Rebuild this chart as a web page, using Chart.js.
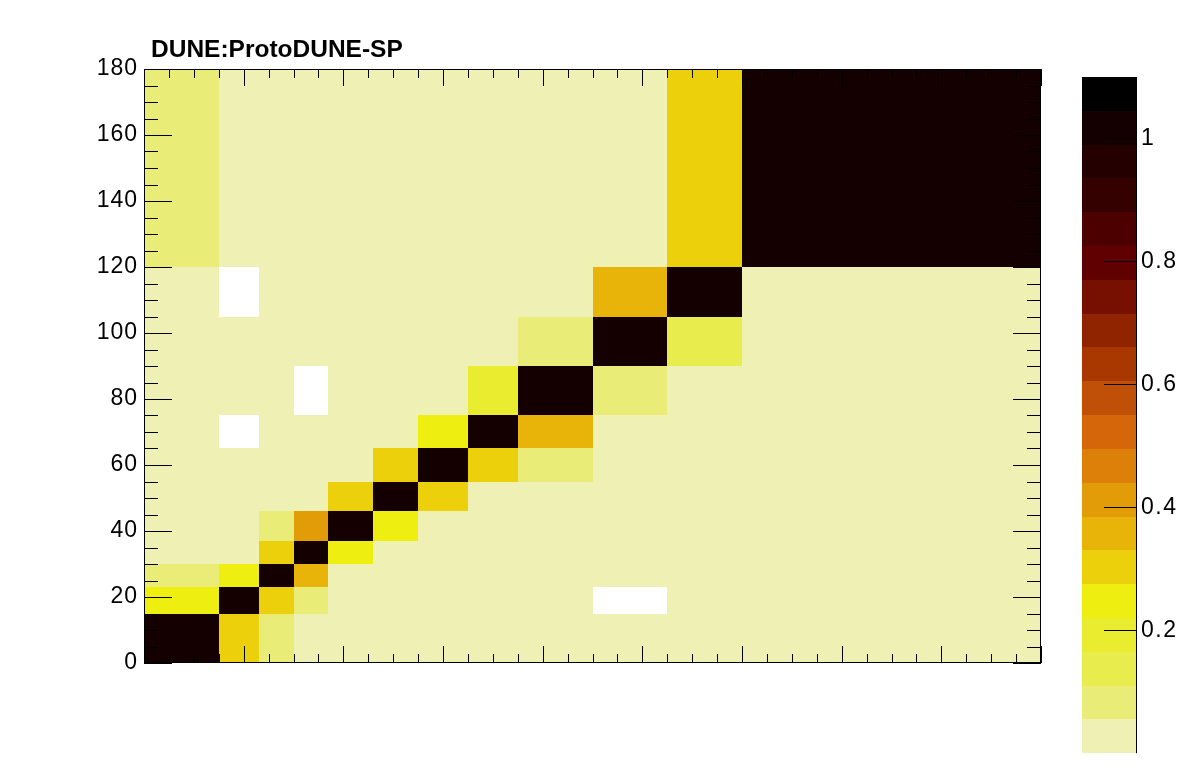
<!DOCTYPE html>
<html>
<head>
<meta charset="utf-8">
<script src="https://cdn.jsdelivr.net/npm/chart.js@4"></script>
<style>
  html, body { margin: 0; padding: 0; background: #fff; }
  #wrap { position: relative; width: 1196px; height: 772px; }
  #main { position: absolute; left: 0; top: 0; }
  #zbar { position: absolute; left: 1041px; top: 0; }
</style>
</head>
<body>
<div id="wrap">
  <canvas id="main" width="1196" height="772" style="width:1196px;height:772px"></canvas>
  <canvas id="zbar" width="155" height="772" style="width:155px;height:772px"></canvas>
</div>
<script>
// bin edges, same on both axes
const binEdges = [0, 15, 23, 30, 37, 46, 55, 65, 75, 90, 105, 120, 180];

// colour scale
const zMin = 0;
const zMax = 1.1;
const nLevels = 20;
const palette = [
  'rgb(238,240,180)', 'rgb(234,236,120)', 'rgb(232,236,76)', 'rgb(234,236,48)',
  'rgb(238,238,16)', 'rgb(236,208,12)', 'rgb(232,180,10)', 'rgb(226,156,8)',
  'rgb(220,128,10)', 'rgb(214,102,10)', 'rgb(192,80,8)', 'rgb(168,56,0)',
  'rgb(144,36,0)', 'rgb(120,16,0)', 'rgb(96,0,0)', 'rgb(76,0,0)',
  'rgb(52,0,0)', 'rgb(36,0,0)', 'rgb(20,0,0)', 'rgb(0,0,0)'
];

// correlation values, one row per y bin (bottom row first), one entry per x bin
const corr = [
  [1.00, 0.30, 0.08, 0.02, 0.02, 0.02, 0.02, 0.02, 0.02, 0.02, 0.02, 0.02],
  [0.25, 1.00, 0.30, 0.08, 0.02, 0.02, 0.02, 0.02, 0.02, -0.03, 0.02, 0.02],
  [0.08, 0.25, 1.00, 0.36, 0.02, 0.02, 0.02, 0.02, 0.02, 0.02, 0.02, 0.02],
  [0.02, 0.02, 0.30, 1.00, 0.25, 0.02, 0.02, 0.02, 0.02, 0.02, 0.02, 0.02],
  [0.02, 0.02, 0.08, 0.41, 1.00, 0.25, 0.02, 0.02, 0.02, 0.02, 0.02, 0.02],
  [0.02, 0.02, 0.02, 0.02, 0.30, 1.00, 0.30, 0.02, 0.02, 0.02, 0.02, 0.02],
  [0.02, 0.02, 0.02, 0.02, 0.02, 0.30, 1.00, 0.30, 0.08, 0.02, 0.02, 0.02],
  [0.02, -0.03, 0.02, 0.02, 0.02, 0.02, 0.25, 1.00, 0.36, 0.02, 0.02, 0.02],
  [0.02, 0.02, 0.02, -0.03, 0.02, 0.02, 0.02, 0.19, 1.00, 0.08, 0.02, 0.02],
  [0.02, 0.02, 0.02, 0.02, 0.02, 0.02, 0.02, 0.02, 0.08, 1.00, 0.14, 0.02],
  [0.02, -0.03, 0.02, 0.02, 0.02, 0.02, 0.02, 0.02, 0.02, 0.36, 1.00, 0.02],
  [0.08, 0.02, 0.02, 0.02, 0.02, 0.02, 0.02, 0.02, 0.02, 0.02, 0.30, 1.00]
];

const titleText = 'DUNE:ProtoDUNE-SP';
const fontFamily = '"Liberation Sans", Arial, Helvetica, sans-serif';

function colorFor(v) {
  const k = Math.floor((v - zMin) / (zMax - zMin) * nLevels);
  return palette[Math.max(0, Math.min(nLevels - 1, k))];
}

// ROOT's text is a little looser than Liberation Sans
const spacing = px => ({
  id: 'spacing',
  beforeDraw(chart) { chart.ctx.letterSpacing = px; }
});

// draws the cells (values under zMin are left white, as ROOT does)
const heatmap = {
  id: 'heatmap',
  beforeDatasetsDraw(chart) {
    const { ctx, scales: { x, y } } = chart;
    ctx.save();
    corr.forEach((row, i) => {
      const yb = Math.round(y.getPixelForValue(binEdges[i]));
      const yt = Math.round(y.getPixelForValue(binEdges[i + 1]));
      row.forEach((v, j) => {
        if (v < zMin) return;
        const xl = Math.round(x.getPixelForValue(binEdges[j]));
        const xr = Math.round(x.getPixelForValue(binEdges[j + 1]));
        ctx.fillStyle = colorFor(v);
        ctx.fillRect(xl, yt, xr - xl, yb - yt);
      });
    });
    ctx.restore();
  }
};

// frame box, inward ticks on all four sides, and the title
const frame = {
  id: 'frame',
  afterDraw(chart) {
    const { ctx, chartArea: a, scales: { x, y } } = chart;
    ctx.save();
    ctx.strokeStyle = '#000';
    ctx.lineWidth = 1;
    ctx.beginPath();
    for (let v = 0; v <= 180; v += 5) {
      const major = v % 20 === 0;
      const py = Math.round(y.getPixelForValue(v)) + 0.5;
      const px = Math.round(x.getPixelForValue(v)) + 0.5;
      const ly = major ? 28 : 14;
      const lx = major ? 17 : 9;
      ctx.moveTo(a.left, py); ctx.lineTo(a.left + ly, py);
      ctx.moveTo(a.right, py); ctx.lineTo(a.right - ly, py);
      ctx.moveTo(px, a.bottom); ctx.lineTo(px, a.bottom - lx);
      ctx.moveTo(px, a.top); ctx.lineTo(px, a.top + lx);
    }
    ctx.stroke();
    ctx.strokeRect(a.left + 0.5, a.top + 0.5, a.right - a.left - 1, a.bottom - a.top - 1);

    ctx.fillStyle = '#000';
    ctx.font = 'bold 24.5px ' + fontFamily;
    ctx.letterSpacing = '0px';
    ctx.textAlign = 'left';
    ctx.textBaseline = 'alphabetic';
    ctx.fillText(titleText, 151, 57);
    ctx.restore();
  }
};

new Chart(document.getElementById('main'), {
  type: 'scatter',
  data: { datasets: [{ data: [] }] },
  options: {
    responsive: false,
    animation: false,
    layout: { padding: { top: 69, right: 155, left: 0, bottom: 0 } },
    plugins: { legend: { display: false }, tooltip: { enabled: false } },
    scales: {
      x: {
        type: 'linear', min: 0, max: 180,
        grid: { display: false, drawTicks: false },
        border: { display: false },
        ticks: { display: false },
        afterFit(s) { s.height = 109; }
      },
      y: {
        type: 'linear', min: 0, max: 180,
        grid: { display: false, drawTicks: false },
        border: { display: false },
        ticks: { stepSize: 20, padding: 6, color: '#000', font: { family: fontFamily, size: 23 } },
        afterFit(s) { s.width = 144; }
      }
    }
  },
  plugins: [spacing('1px'), heatmap, frame]
});

// colour bar
const zbar = {
  id: 'zbar',
  beforeDatasetsDraw(chart) {
    const { ctx, chartArea: a, scales: { y } } = chart;
    const step = (zMax - zMin) / nLevels;
    ctx.save();
    palette.forEach((c, k) => {
      const yb = Math.round(y.getPixelForValue(zMin + k * step));
      const yt = Math.round(y.getPixelForValue(zMin + (k + 1) * step));
      ctx.fillStyle = c;
      ctx.fillRect(a.left, yt, a.right - a.left, yb - yt);
    });
    ctx.restore();
  },
  afterDraw(chart) {
    const { ctx, chartArea: a, scales: { y } } = chart;
    ctx.save();
    ctx.strokeStyle = '#000';
    ctx.lineWidth = 1;
    ctx.beginPath();
    ctx.moveTo(a.right + 0.5, a.top);
    ctx.lineTo(a.right + 0.5, a.bottom);
    y.ticks.forEach(t => {
      if (t.value <= zMin) return;
      const py = Math.round(y.getPixelForValue(t.value)) + 0.5;
      ctx.moveTo(a.right - 32, py);
      ctx.lineTo(a.right, py);
    });
    ctx.stroke();
    ctx.restore();
  }
};

new Chart(document.getElementById('zbar'), {
  type: 'scatter',
  data: { datasets: [{ data: [] }] },
  options: {
    responsive: false,
    animation: false,
    layout: { padding: { top: 77, bottom: 16, left: 41, right: 0 } },
    plugins: { legend: { display: false }, tooltip: { enabled: false } },
    scales: {
      x: { display: false, min: 0, max: 1 },
      y: {
        type: 'linear', position: 'right', min: zMin, max: zMax,
        grid: { display: false, drawTicks: false },
        border: { display: false },
        ticks: {
          stepSize: 0.2, includeBounds: false, padding: 5, color: '#000',
          font: { family: fontFamily, size: 23 },
          callback: v => (v <= zMin ? '' : String(+v.toFixed(1)))
        },
        afterFit(s) { s.width = 60; }
      }
    }
  },
  plugins: [spacing('1.5px'), zbar]
});
</script>
</body>
</html>
